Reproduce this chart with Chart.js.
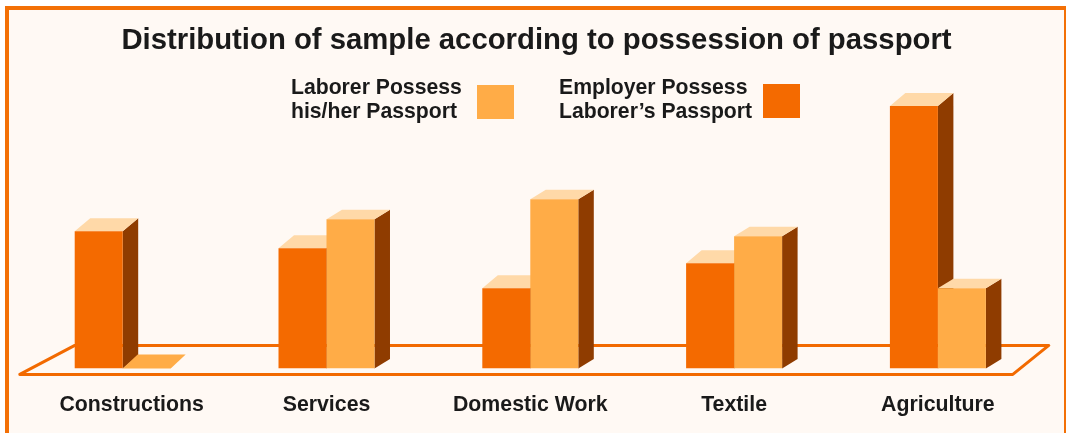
<!DOCTYPE html>
<html>
<head>
<meta charset="utf-8">
<title>Distribution of sample according to possession of passport</title>
<script src="https://cdn.jsdelivr.net/npm/chart.js@4/dist/chart.umd.min.js"></script>
<style>
  html, body { margin: 0; padding: 0; background: #ffffff; overflow: hidden; }
  #panel {
    position: absolute; left: 5px; top: 6px; width: 1055px; height: 427px; overflow: hidden;
    background: #fff9f4;
    border-left: 4px solid #f37006; border-top: 4px solid #f37006; border-right: 2px solid #f37006;
  }
  canvas { display: block; }
</style>
</head>
<body>
<div id="panel"><canvas id="chart" width="1055" height="432"></canvas></div>
<script>
const chartTitle = 'Distribution of sample according to possession of passport';
const categories = ['Constructions', 'Services', 'Domestic Work', 'Textile', 'Agriculture'];
const employerLabel = ['Employer Possess', 'Laborer\u2019s Passport'];
const laborerLabel = ['Laborer Possess', 'his/her Passport'];
const employerValues = [137, 120, 80, 105, 262];
const laborerValues = [0, 149, 169, 132, 80];

const INK = '#1a1a1a';
const FONT = '"Liberation Sans", Arial, sans-serif';
const EMPLOYER = '#f46a00', LABORER = '#ffac47', TOP = '#ffd9a8', SIDE = '#8f3c00', RULE = '#f26a00';

// Oblique offset of the extruded faces for each series.
const depth = [{ dx: 15.5, dy: 13 }, { dx: 15.5, dy: 9.5 }];
const flatDepth = { dx: 15, dy: 14 };

function poly(ctx, pts, fill) {
  ctx.beginPath();
  pts.forEach((p, i) => i ? ctx.lineTo(p[0], p[1]) : ctx.moveTo(p[0], p[1]));
  ctx.closePath();
  ctx.fillStyle = fill;
  ctx.fill();
}

// Centres the title on the whole canvas rather than on the padded plot width.
const titleCentrePlugin = {
  id: 'titleCentre',
  afterLayout(chart) {
    chart.titleBlock.left = 0;
    chart.titleBlock.right = chart.width;
  }
};

// Floor outline under the bars, then the side and top faces of every bar.
// The library paints the front faces afterwards, over these.
const extrudePlugin = {
  id: 'extrude',
  beforeDatasetsDraw(chart) {
    const { ctx, chartArea: a } = chart;
    const b = a.bottom;
    ctx.save();
    ctx.strokeStyle = RULE;
    ctx.lineWidth = 3;
    ctx.lineJoin = 'round';
    ctx.lineCap = 'round';
    ctx.beginPath();
    ctx.moveTo(a.left - 1, b + 6);
    ctx.lineTo(a.right - 27, b + 6);
    ctx.lineTo(a.right + 9, b - 23);
    ctx.lineTo(a.left + 54, b - 23);
    ctx.closePath();
    ctx.stroke();

    chart.data.datasets.forEach((ds, index) => {
      chart.getDatasetMeta(index).data.forEach(bar => {
        const { x, y, base, width } = bar.getProps(['x', 'y', 'base', 'width'], true);
        const l = x - width / 2, r = x + width / 2;
        if (base - y < 1) {
          const d = flatDepth;
          poly(ctx, [[l, base], [r, base], [r + d.dx, base - d.dy], [l + d.dx, base - d.dy]], ds.backgroundColor);
          return;
        }
        const d = depth[index];
        poly(ctx, [[r, y], [r + d.dx, y - d.dy], [r + d.dx, base - d.dy], [r, base]], SIDE);
        poly(ctx, [[l, y], [r, y], [r + d.dx, y - d.dy], [l + d.dx, y - d.dy]], TOP);
      });
    });
    ctx.restore();
  }
};

// Two-line legend entries with the swatch to the right of the text.
const legendPlugin = {
  id: 'sideLegend',
  afterDraw(chart) {
    const { ctx } = chart;
    const entries = [
      { ds: 1, textX: 282, swatchX: 468, swatchY: 75 },
      { ds: 0, textX: 550, swatchX: 754, swatchY: 74 }
    ];
    ctx.save();
    ctx.font = 'bold 21.2px ' + FONT;
    ctx.textBaseline = 'middle';
    ctx.textAlign = 'left';
    entries.forEach(e => {
      const ds = chart.data.datasets[e.ds];
      ctx.fillStyle = INK;
      ds.label.forEach((line, i) => ctx.fillText(line, e.textX, 78 + i * 24));
      ctx.fillStyle = ds.backgroundColor;
      ctx.fillRect(e.swatchX, e.swatchY, 37, 34);
    });
    ctx.restore();
  }
};

new Chart(document.getElementById('chart'), {
  type: 'bar',
  data: {
    labels: categories,
    datasets: [
      { label: employerLabel, data: employerValues, backgroundColor: EMPLOYER },
      { label: laborerLabel, data: laborerValues, backgroundColor: LABORER }
    ]
  },
  options: {
    responsive: false,
    animation: false,
    devicePixelRatio: 1,
    layout: { padding: { left: 11.8, right: 24.2, bottom: 0, top: 0 } },
    datasets: { bar: { categoryPercentage: 0.471, barPercentage: 1, borderWidth: 0 } },
    plugins: {
      legend: { display: false },
      tooltip: { enabled: false },
      title: {
        display: true,
        text: chartTitle,
        color: INK,
        font: { family: FONT, size: 29.3, weight: 'bold', lineHeight: 1.2 },
        padding: { top: 13.4, bottom: 9.4 }
      }
    },
    scales: {
      x: {
        grid: { display: false, drawTicks: false },
        border: { display: false },
        ticks: {
          color: INK,
          font: { family: FONT, size: 21.3, weight: 'bold' },
          padding: 24,
          autoSkip: false,
          maxRotation: 0,
          // the first label sits a little right of its bars
          callback(value, index) { return (index === 0 ? '   ' : '') + categories[index]; }
        }
      },
      y: { display: false, min: 0, max: 300 }
    }
  },
  plugins: [titleCentrePlugin, extrudePlugin, legendPlugin]
});
</script>
</body>
</html>
